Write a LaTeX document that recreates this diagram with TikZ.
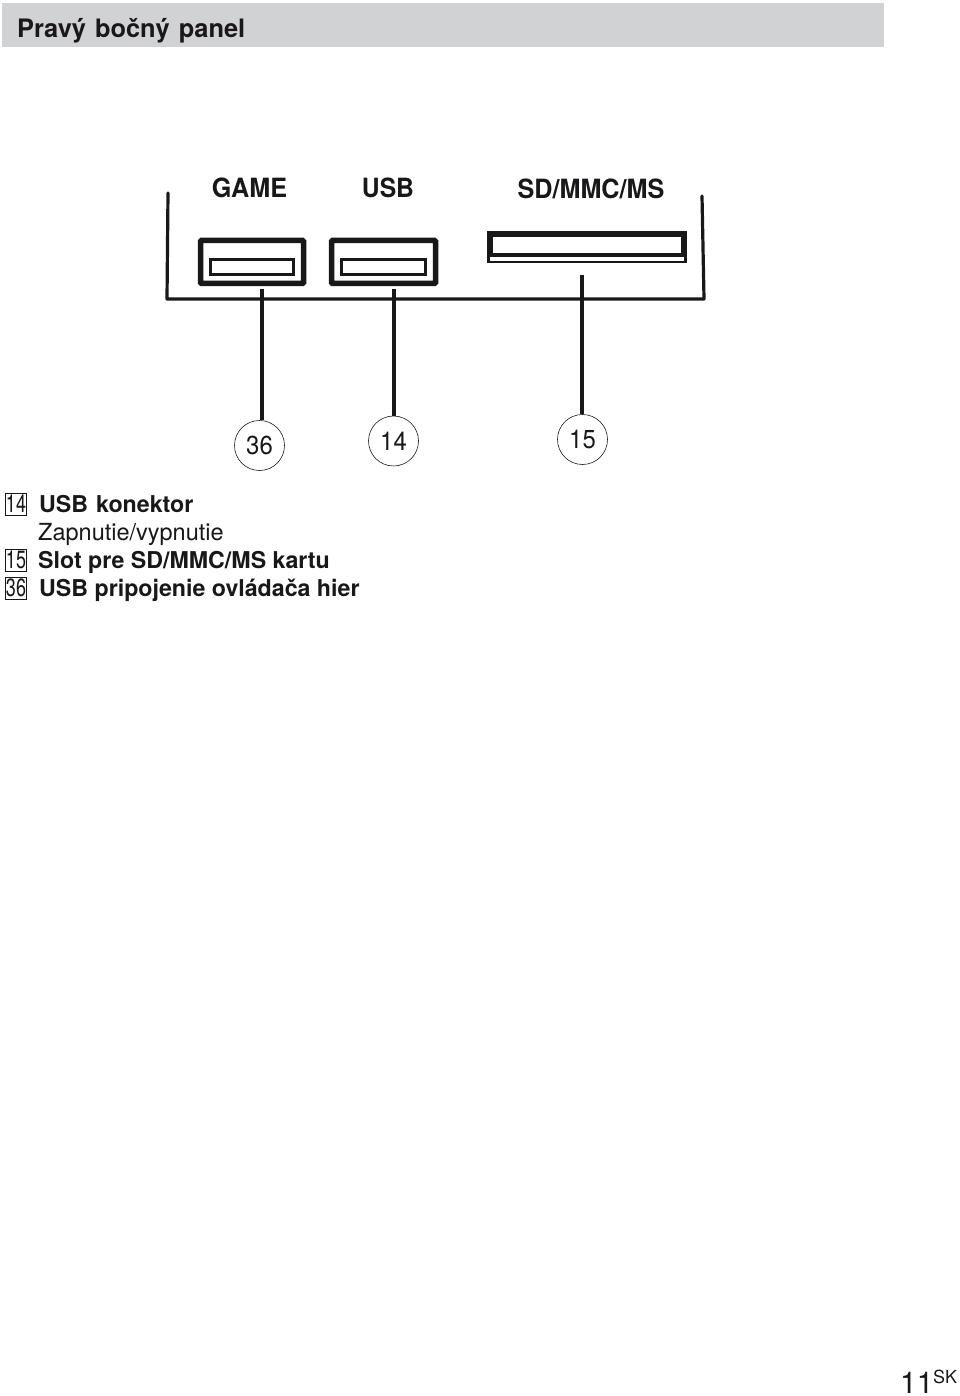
\documentclass[tikz,border=0pt]{standalone}
\usepackage{fontspec}
\setmainfont{TeX Gyre Heros}
\usetikzlibrary{calc}
\definecolor{headgray}{HTML}{D1D2D4}
\definecolor{inkblack}{HTML}{1A171B}
\newcommand{\narrow}[2]{\scalebox{#1}[1]{#2}}
\tikzset{
    portline/.style={draw=inkblack, line width=5.5pt, rounded corners=1pt, fill=white},
    slotline/.style={draw=inkblack, line width=3.2pt, fill=white},
    panelline/.style={draw=inkblack, line width=3.2pt, line cap=round, line join=round},
    leaderline/.style={draw=inkblack, line width=4pt},
    calloutnum/.style={circle, draw=inkblack, line width=0.6pt, minimum size=50pt, inner sep=0pt, font=\fontsize{26}{26}\selectfont, text=inkblack},
    portlabel/.style={font=\bfseries\fontsize{26.5}{26.5}\selectfont, text=inkblack, anchor=base},
    itemtext/.style={anchor=base west, inner sep=0pt, text=inkblack, font=\bfseries\fontsize{23.2}{23.2}\selectfont},
    itembox/.style={draw=inkblack, line width=0.7pt, minimum width=21pt, minimum height=22pt, inner sep=0pt, text=inkblack, font=\fontsize{25}{25}\selectfont}
}
\begin{document}
\begin{tikzpicture}[x=1pt, y=-1pt]
    \useasboundingbox (0,0) rectangle (960,1396);

    % Header bar
    \fill[headgray] (2,3) rectangle (884,47);
    \node[itemtext, font=\bfseries\fontsize{25.4}{25.4}\selectfont] (title) at (17,38) {Pravý\hspace{2pt} bočný\hspace{2pt} panel};

    % Side panel outline
    \coordinate (PL) at (168,193);
    \coordinate (BL) at (167,299);
    \coordinate (BR) at (704,299);
    \coordinate (PR) at (702,196);
    \draw[panelline] (PL) -- (BL) -- (BR) -- (PR);

    % Ports
    \draw[portline] (200.5,240.5) rectangle (303.5,283.5);
    \draw[slotline] (210.5,259.5) rectangle (293.5,274.5);
    \draw[portline] (331.5,240.5) rectangle (435.5,283.5);
    \draw[slotline] (341.5,259.5) rectangle (425.5,274.5);

    % Card slot
    \fill[inkblack] (487,231) rectangle (687,263.5);
    \fill[white] (493,237) rectangle (681,253);
    \fill[white] (490,257.5) rectangle (684,261);

    % Port labels
    \node[portlabel] (game) at (249.5,198) {\narrow{.95}{GAME}};
    \node[portlabel] (usb) at (388,198) {\narrow{.93}{USB}};
    \node[portlabel] (card) at (591,198.5) {\narrow{.95}{SD/MMC/MS}};

    % Callouts
    \node[calloutnum] (c36) at (259.5,445.5) {\narrow{.92}{36}};
    \node[calloutnum] (c14) at (393.5,441) {\narrow{.92}{14}};
    \node[calloutnum] (c15) at (582.5,439.5) {\narrow{.92}{15}};
    \coordinate (T36) at (262,289);
    \coordinate (T14) at (394,289);
    \coordinate (T15) at (582,275);
    \draw[leaderline] (T36) -- (c36.north -| T36);
    \draw[leaderline] (T14) -- (c14.north -| T14);
    \draw[leaderline] (T15) -- (c15.north -| T15);

    % Legend
    \node[itembox] (b14) at (16,504) {\narrow{.72}{14}};
    \node[itemtext] (t14) at (39,512) {USB\hspace{1.5pt} konektor};
    \node[itemtext, font=\fontsize{23.5}{23.5}\selectfont] (t14b) at (38,540) {Zapnutie/vypnutie};
    \node[itembox] (b15) at (16,560) {\narrow{.72}{15}};
    \node[itemtext] (t15) at (38,568) {Slot pre SD/MMC/MS kartu};
    \node[itembox] (b36) at (16,588) {\narrow{.72}{36}};
    \node[itemtext] (t36) at (39,596) {USB pripojenie ovládača hier};

    % Page number
    \node[itemtext, font=\fontsize{30}{30}\selectfont] (page) at (900,1393) {11};
    \node[itemtext, font=\fontsize{18}{18}\selectfont] (lang) at (933,1383) {SK};
\end{tikzpicture}
\end{document}
